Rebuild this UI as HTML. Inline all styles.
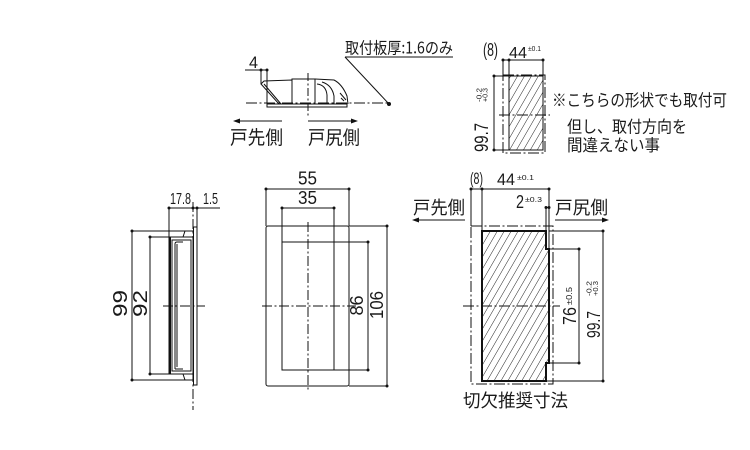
<!DOCTYPE html>
<html><head><meta charset="utf-8"><style>
html,body{margin:0;padding:0;background:#fff;}
svg{display:block;}
text{font-family:"Liberation Sans","Noto Sans CJK JP",sans-serif;fill:#1a1a1a;}
.j{font-family:"Noto Sans CJK JP","Liberation Sans",sans-serif;}
</style></head><body>
<svg width="750" height="450" viewBox="0 0 750 450" xmlns="http://www.w3.org/2000/svg">
<defs>
<pattern id="h" patternUnits="userSpaceOnUse" width="6" height="6" patternTransform="rotate(30)">
<line x1="0" y1="0" x2="0" y2="6" stroke="#222" stroke-width="1"/>
</pattern>
</defs>
<rect width="750" height="450" fill="#fff"/>
<g stroke="#111" stroke-width="1" fill="none" shape-rendering="crispEdges">
<!-- ===== Top middle figure ===== -->
<line x1="345" y1="57" x2="453" y2="57"/>
<line x1="246" y1="103" x2="389" y2="103" stroke-dasharray="11 2.5 2 2.5"/>
<rect x="267" y="104" width="80" height="3"/>
<rect x="292" y="79" width="23" height="25"/>
<line x1="245" y1="70" x2="268" y2="70"/>
<line x1="261" y1="70" x2="261" y2="84"/>
<line x1="267" y1="70" x2="267" y2="104"/>
<line x1="308" y1="73" x2="308" y2="116" stroke-dasharray="8 2.5 2 2.5"/>
<line x1="238" y1="121" x2="282" y2="121"/>
<line x1="308" y1="121" x2="352" y2="121"/>

<!-- ===== Top right small figure ===== -->
<line x1="503" y1="60" x2="543" y2="60"/>
<line x1="503" y1="60" x2="503" y2="75"/>
<line x1="509" y1="60" x2="509" y2="76"/>
<line x1="543" y1="60" x2="543" y2="76"/>
<rect x="503" y="75" width="42" height="78" stroke-dasharray="11 2.5 2 2.5"/>
<rect x="509" y="76" width="34" height="74" fill="url(#h)"/>
<line x1="494" y1="76" x2="494" y2="150"/>
<line x1="494" y1="76" x2="509" y2="76"/>
<line x1="494" y1="150" x2="509" y2="150"/>
<line x1="499" y1="115" x2="550" y2="115" stroke-dasharray="11 2.5 2 2.5"/>

<!-- ===== Side view ===== -->
<line x1="169" y1="208" x2="220" y2="208"/>
<line x1="169" y1="208" x2="169" y2="237"/>
<line x1="197" y1="208" x2="197" y2="227"/>
<line x1="193" y1="202" x2="193" y2="410" stroke-dasharray="10 2.5 2 2.5"/>
<rect x="193.5" y="227" width="3.5" height="158"/>
<line x1="132" y1="231" x2="132" y2="380"/>
<line x1="132" y1="231" x2="193" y2="231"/>
<line x1="132" y1="380" x2="193" y2="380"/>
<line x1="150" y1="237" x2="150" y2="374"/>
<line x1="150" y1="237" x2="169" y2="237"/>
<line x1="150" y1="374" x2="169" y2="374"/>
<rect x="169" y="237" width="24" height="137"/>
<line x1="170" y1="237" x2="170" y2="374" stroke-width="2"/>
<rect x="172" y="240" width="19" height="131"/>
<line x1="177" y1="244" x2="177" y2="367"/>
<line x1="163" y1="306" x2="205" y2="306" stroke-dasharray="10 2.5 2 2.5"/>

<!-- ===== Front view ===== -->
<line x1="266" y1="189" x2="349" y2="189"/>
<line x1="266" y1="189" x2="266" y2="226"/>
<line x1="349" y1="189" x2="349" y2="226"/>
<line x1="282" y1="208" x2="334" y2="208"/>
<line x1="282" y1="208" x2="282" y2="242"/>
<line x1="334" y1="208" x2="334" y2="242"/>
<rect x="282" y="242" width="52" height="128"/>
<line x1="334" y1="242" x2="368" y2="242"/>
<line x1="334" y1="370" x2="368" y2="370"/>
<line x1="368" y1="242" x2="368" y2="370"/>
<line x1="349" y1="226" x2="387" y2="226"/>
<line x1="349" y1="386" x2="387" y2="386"/>
<line x1="387" y1="226" x2="387" y2="386"/>
<line x1="308" y1="222" x2="308" y2="391" stroke-dasharray="10 2.5 2 2.5"/>
<line x1="262" y1="306" x2="356" y2="306" stroke-dasharray="10 2.5 2 2.5"/>

<!-- ===== Cutout ===== -->
<line x1="471" y1="189" x2="549" y2="189"/>
<line x1="471" y1="189" x2="471" y2="226"/>
<line x1="482" y1="189" x2="482" y2="231"/>
<line x1="549" y1="189" x2="549" y2="249"/>
<line x1="546" y1="207" x2="546" y2="231"/>
<line x1="546" y1="207.5" x2="549" y2="207.5"/>
<line x1="417" y1="220" x2="465" y2="220"/>
<line x1="555" y1="220" x2="603" y2="220"/>
<rect x="471" y="226" width="82" height="158" stroke-dasharray="11 2.5 2 2.5"/>
<path d="M482,231 L546,231 L546,249 L549,249 L549,363 L546,363 L546,381 L482,381 Z" fill="url(#h)" stroke-width="1.6"/>
<line x1="549" y1="249" x2="579" y2="249"/>
<line x1="549" y1="363" x2="579" y2="363"/>
<line x1="579" y1="249" x2="579" y2="363"/>
<line x1="549" y1="231" x2="603" y2="231"/>
<line x1="546" y1="381" x2="603" y2="381"/>
<line x1="603" y1="231" x2="603" y2="381"/>
<line x1="463" y1="306" x2="560" y2="306" stroke-dasharray="11 2.5 2 2.5"/>
</g>

<!-- curved / slanted parts (antialiased) -->
<g stroke="#111" stroke-width="1" fill="none">
<line x1="345" y1="57" x2="389" y2="104"/>
<path d="M261,84 L264,81 L292,80 L292,104 L279,104 Z"/>
<line x1="264" y1="84" x2="281" y2="104"/>
<path d="M315,79 L334,80 Q342,84 347,96 L348,104"/>
<path d="M317,84 Q326,85 327,95 L327,104"/>
<path d="M322,82 Q332,85 334,96 L334,104"/>
<path d="M340,93 L346,100 M341,98 L344,101"/>
<path d="M183,237 L185,231 L193,231 M183,374 L185,380 L193,380"/>
<path d="M175,369 L175,244 Q175,242 177,242 L183,242 M175,369 L183,369"/>
<rect x="266" y="226" width="83" height="160" rx="2"/>
</g>

<!-- dots and arrowheads -->
<g fill="#111">
<circle cx="389" cy="104" r="2"/>
<circle cx="261" cy="70" r="1.5"/><circle cx="267" cy="70" r="1.5"/>
<polygon points="233,121 240,118.5 240,123.5"/>
<polygon points="358,121 351,118.5 351,123.5"/>
<circle cx="503" cy="60" r="1.5"/><circle cx="509" cy="60" r="1.5"/><circle cx="543" cy="60" r="1.5"/>
<circle cx="494" cy="76" r="1.5"/><circle cx="494" cy="150" r="1.5"/>
<circle cx="169" cy="208" r="1.5"/><circle cx="193" cy="208" r="1.5"/><circle cx="197" cy="208" r="1.5"/>
<circle cx="132" cy="231" r="1.5"/><circle cx="132" cy="380" r="1.5"/>
<circle cx="150" cy="237" r="1.5"/><circle cx="150" cy="374" r="1.5"/>
<circle cx="266" cy="189" r="1.5"/><circle cx="349" cy="189" r="1.5"/>
<circle cx="282" cy="208" r="1.5"/><circle cx="334" cy="208" r="1.5"/>
<circle cx="368" cy="242" r="1.5"/><circle cx="368" cy="370" r="1.5"/>
<circle cx="387" cy="226" r="1.5"/><circle cx="387" cy="386" r="1.5"/>
<circle cx="471" cy="189" r="1.5"/><circle cx="482" cy="189" r="1.5"/><circle cx="549" cy="189" r="1.5"/>
<circle cx="546" cy="207.5" r="1.5"/><circle cx="549" cy="207.5" r="1.5"/>
<polygon points="412,220 419,217.5 419,222.5"/>
<polygon points="609,220 602,217.5 602,222.5"/>
<circle cx="579" cy="249" r="1.5"/><circle cx="579" cy="363" r="1.5"/>
<circle cx="603" cy="231" r="1.5"/><circle cx="603" cy="381" r="1.5"/>
</g>

<!-- ===== Text ===== -->
<text class="j" x="345" y="53.5" font-size="16" textLength="108" lengthAdjust="spacingAndGlyphs">取付板厚:1.6のみ</text>
<text x="249" y="68" font-size="17" textLength="9" lengthAdjust="spacingAndGlyphs">4</text>
<text class="j" x="230" y="144" font-size="19" textLength="53" lengthAdjust="spacingAndGlyphs">戸先側</text>
<text class="j" x="308" y="144" font-size="19" textLength="52" lengthAdjust="spacingAndGlyphs">戸尻側</text>

<text x="483" y="56" font-size="18" textLength="15" lengthAdjust="spacingAndGlyphs">(8)</text>
<text x="509" y="58" font-size="16" textLength="18" lengthAdjust="spacingAndGlyphs">44</text>
<text x="528" y="51" font-size="7" textLength="13" lengthAdjust="spacingAndGlyphs">±0.1</text>
<text transform="translate(488,152) rotate(-90)" font-size="19" textLength="29" lengthAdjust="spacingAndGlyphs">99.7</text>
<text transform="translate(481.5,102) rotate(-90)" font-size="7" textLength="14" lengthAdjust="spacingAndGlyphs">-0.2</text>
<text transform="translate(487.5,102) rotate(-90)" font-size="7" textLength="14" lengthAdjust="spacingAndGlyphs">+0.3</text>
<text class="j" x="552" y="106" font-size="16.5" textLength="175" lengthAdjust="spacingAndGlyphs">※こちらの形状でも取付可</text>
<text class="j" x="567" y="132.5" font-size="16.5" textLength="120" lengthAdjust="spacingAndGlyphs">但し、取付方向を</text>
<text class="j" x="567" y="151" font-size="16.5" textLength="93" lengthAdjust="spacingAndGlyphs">間違えない事</text>

<text x="170" y="204" font-size="16" textLength="21" lengthAdjust="spacingAndGlyphs">17.8</text>
<text x="203" y="204" font-size="16" textLength="15" lengthAdjust="spacingAndGlyphs">1.5</text>
<text transform="translate(127,317) rotate(-90)" font-size="20" textLength="27" lengthAdjust="spacingAndGlyphs">99</text>
<text transform="translate(147,317) rotate(-90)" font-size="20" textLength="27" lengthAdjust="spacingAndGlyphs">92</text>

<text x="298" y="184.5" font-size="18" textLength="19" lengthAdjust="spacingAndGlyphs">55</text>
<text x="298" y="204" font-size="18" textLength="19" lengthAdjust="spacingAndGlyphs">35</text>
<text transform="translate(363,315.5) rotate(-90)" font-size="18" textLength="20" lengthAdjust="spacingAndGlyphs">86</text>
<text transform="translate(383,319) rotate(-90)" font-size="18" textLength="28" lengthAdjust="spacingAndGlyphs">106</text>

<text x="470" y="184" font-size="17" textLength="13" lengthAdjust="spacingAndGlyphs">(8)</text>
<text x="497" y="185" font-size="17" textLength="18" lengthAdjust="spacingAndGlyphs">44</text>
<text x="517" y="180" font-size="7.5" textLength="17" lengthAdjust="spacingAndGlyphs">±0.1</text>
<text x="516" y="208" font-size="18" textLength="8" lengthAdjust="spacingAndGlyphs">2</text>
<text x="525" y="202" font-size="7.5" textLength="17" lengthAdjust="spacingAndGlyphs">±0.3</text>
<text class="j" x="413" y="214" font-size="18" textLength="52" lengthAdjust="spacingAndGlyphs">戸先側</text>
<text class="j" x="555" y="214" font-size="18" textLength="53" lengthAdjust="spacingAndGlyphs">戸尻側</text>
<text transform="translate(576,325) rotate(-90)" font-size="18" textLength="18" lengthAdjust="spacingAndGlyphs">76</text>
<text transform="translate(572,305) rotate(-90)" font-size="8" textLength="18" lengthAdjust="spacingAndGlyphs">±0.5</text>
<text transform="translate(600,338) rotate(-90)" font-size="18" textLength="27" lengthAdjust="spacingAndGlyphs">99.7</text>
<text transform="translate(591.5,296) rotate(-90)" font-size="7" textLength="15" lengthAdjust="spacingAndGlyphs">-0.2</text>
<text transform="translate(598,296) rotate(-90)" font-size="7" textLength="15" lengthAdjust="spacingAndGlyphs">+0.3</text>
<text class="j" x="463" y="407" font-size="18" textLength="105" lengthAdjust="spacingAndGlyphs">切欠推奨寸法</text>
</svg>
</body></html>
